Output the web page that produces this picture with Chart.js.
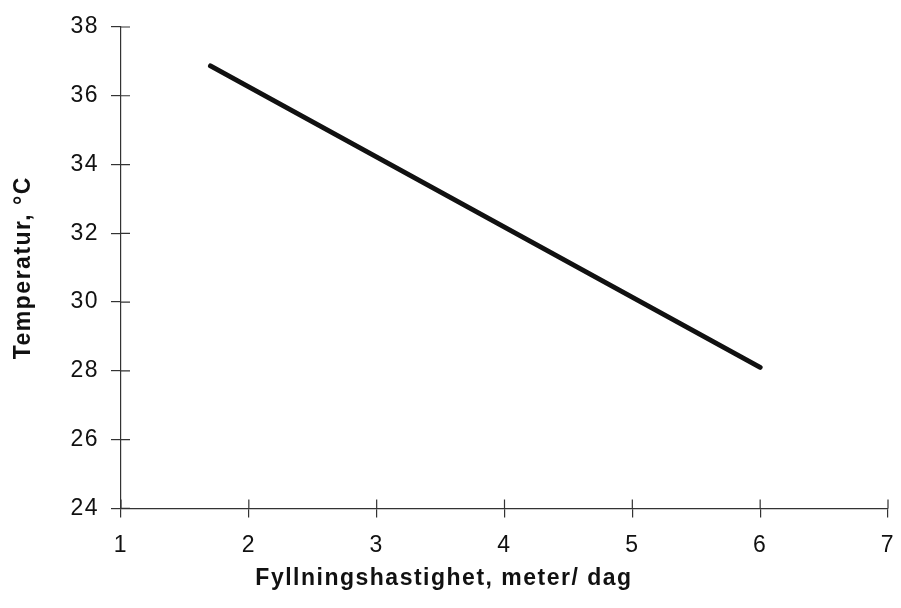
<!DOCTYPE html>
<html>
<head>
<meta charset="utf-8">
<script src="https://cdn.jsdelivr.net/npm/chart.js@4/dist/chart.umd.min.js"></script>
<style>
  html, body { margin: 0; padding: 0; background: #fff; }
  #wrap { width: 901px; height: 608px; }
</style>
</head>
<body>
<div id="wrap"><canvas id="chart"></canvas></div>
<script>
// line endpoints
const fillRate = [1.7, 6.0];
const temperature = [36.87, 28.1];
const xTicks = [1, 2, 3, 4, 5, 6, 7];
const yTicks = [24, 26, 28, 30, 32, 34, 36, 38];

const ink = '#111';
const font = { family: 'Liberation Sans, Arial, sans-serif', size: 23 };
const boldFont = { family: 'Liberation Sans, Arial, sans-serif', size: 23, weight: 'bold' };

// the printed type is a bit wider than Arial
const spacing = {
    id: 'spacing',
    beforeInit(chart) { chart.ctx.letterSpacing = '1.5px'; },
    beforeDraw(chart) { chart.ctx.letterSpacing = '1.5px'; }
};

// ticks in the original cross the axis line, draw the inner half too
const innerTicks = {
    id: 'innerTicks',
    afterDraw(chart) {
        const ctx = chart.ctx;
        const x = chart.scales.x, y = chart.scales.y;
        ctx.save();
        ctx.strokeStyle = '#333';
        ctx.lineWidth = 1.2;
        ctx.beginPath();
        xTicks.forEach(v => {
            const px = x.getPixelForValue(v);
            ctx.moveTo(px, y.bottom);
            ctx.lineTo(px, y.bottom - 9);
        });
        yTicks.forEach(v => {
            const py = y.getPixelForValue(v);
            ctx.moveTo(x.left, py);
            ctx.lineTo(x.left + 9, py);
        });
        ctx.stroke();
        ctx.restore();
    }
};

new Chart(document.getElementById('chart'), {
    type: 'scatter',
    data: {
        datasets: [{
            data: fillRate.map((v, i) => ({ x: v, y: temperature[i] })),
            showLine: true,
            borderColor: ink,
            borderWidth: 5,
            borderCapStyle: 'round',
            pointRadius: 0
        }]
    },
    options: {
        responsive: true,
        maintainAspectRatio: false,
        animation: false,
        layout: { padding: { top: 27, right: 13, left: 0, bottom: 0 } },
        plugins: {
            legend: { display: false },
            tooltip: { enabled: false },
            title: {
                display: true,
                position: 'bottom',
                text: 'Fyllningshastighet, meter/ dag',
                color: ink,
                font: boldFont,
                padding: { top: 0, bottom: 16 }
            }
        },
        scales: {
            x: {
                type: 'linear',
                min: 1,
                max: 7,
                afterBuildTicks: s => { s.ticks = xTicks.map(v => ({ value: v })); },
                afterFit: s => { s.height = 56; s.paddingRight = 0; },
                border: { display: true, color: '#333', width: 1.2 },
                grid: { display: true, drawOnChartArea: false, drawTicks: true, tickLength: 9, color: '#333', lineWidth: 1.2 },
                ticks: { color: ink, font: font, padding: 14, maxRotation: 0 }
            },
            y: {
                type: 'linear',
                min: 24,
                max: 38,
                afterBuildTicks: s => { s.ticks = yTicks.map(v => ({ value: v })); },
                afterFit: s => { s.width = 121; },
                border: { display: true, color: '#333', width: 1.2 },
                grid: { display: true, drawOnChartArea: false, drawTicks: true, tickLength: 10, color: '#333', lineWidth: 1.2 },
                ticks: { color: ink, font: font, padding: 12 },
                title: {
                    display: true,
                    text: 'Temperatur, °C',
                    color: ink,
                    font: boldFont,
                    padding: { top: 10, bottom: 0 }
                }
            }
        }
    },
    plugins: [spacing, innerTicks]
});
</script>
</body>
</html>
